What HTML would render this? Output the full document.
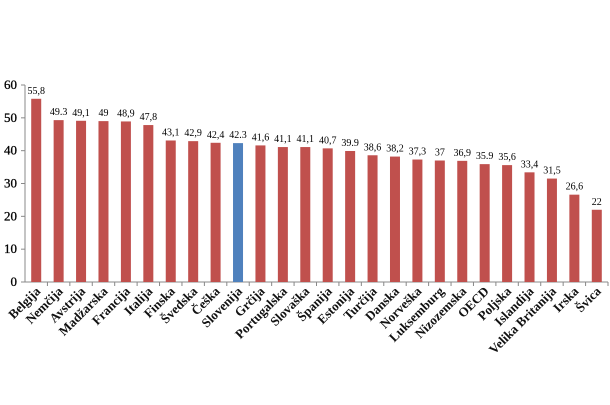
<!DOCTYPE html>
<html><head><meta charset="utf-8"><style>body{margin:0;background:#fff}</style></head><body>
<svg width="610" height="400" xmlns="http://www.w3.org/2000/svg" font-family="Liberation Serif, serif">
<g id="c"></g>
</svg>
<script>
const data=[["Belgija",55.8],["Nemčija",49.3],["Avstrija",49.1],["Madžarska",49],["Francija",48.9],["Italija",47.8],["Finska",43.1],["Švedska",42.9],["Češka",42.4],["Slovenija",42.3],["Grčija",41.6],["Portugalska",41.1],["Slovaška",41.1],["Španija",40.7],["Estonija",39.9],["Turčija",38.6],["Danska",38.2],["Norveška",37.3],["Luksemburg",37],["Nizozemska",36.9],["OECD",35.9],["Poljska",35.6],["Islandija",33.4],["Velika Britanija",31.5],["Irska",26.6],["Švica",22]];
const lab={"49.3":"49.3","42.3":"42.3","39.9":"39.9","35.9":"35.9"};
const y0=282,sc=197/60,x0=25;
let s='';
s+=`<line x1="${x0}" y1="85" x2="${x0}" y2="${y0}" stroke="#888"/>`;
s+=`<line x1="${x0}" y1="${y0}" x2="608" y2="${y0}" stroke="#888"/>`;
for(let v=0;v<=60;v+=10){let y=y0-v*sc;s+=`<line x1="${x0-4}" y1="${y}" x2="${x0}" y2="${y}" stroke="#888"/><text x="${x0-8}" y="${y+4}" font-size="13" text-anchor="end" stroke="#000" stroke-width="0.3">${v}</text>`;}
const n=data.length, ww=(608-x0)/n;
data.forEach((e,i)=>{const cx=x0+ww*(i+0.5),h=e[1]*sc;
const t=lab[String(e[1])]||String(e[1]).replace('.',',');
s+=`<rect x="${cx-5}" y="${y0-h}" width="10" height="${h}" fill="${e[0]=='Slovenija'?'#4f81bd':'#c0504d'}"/>`;
s+=`<text x="${cx}" y="${y0-h-5}" font-size="10" text-anchor="middle">${t}</text>`;
s+=`<line x1="${x0+ww*(i+1)}" y1="${y0}" x2="${x0+ww*(i+1)}" y2="${y0+4}" stroke="#888"/>`;
s+=`<text transform="translate(${cx+5},${y0+10}) rotate(-45)" font-size="13" font-weight="bold" text-anchor="end" fill="#111">${e[0]}</text>`;});
document.getElementById('c').innerHTML=s;
</script>
</body></html>
